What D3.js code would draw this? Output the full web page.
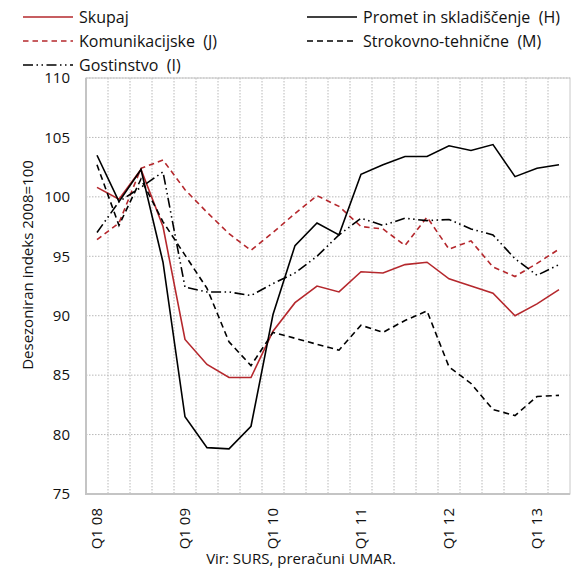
<!DOCTYPE html>
<html>
<head>
<meta charset="utf-8">
<script src="https://cdn.jsdelivr.net/npm/d3@7"></script>
<style>
  body { margin: 0; background: #fff; }
  svg text { font-family: "Open Sans", sans-serif; fill: #111; }
</style>
</head>
<body>
<div id="chart"></div>
<script>
// quarters Q1 08 .. Q2 13
const quarters = ["Q1 08","Q2 08","Q3 08","Q4 08","Q1 09","Q2 09","Q3 09","Q4 09",
                  "Q1 10","Q2 10","Q3 10","Q4 10","Q1 11","Q2 11","Q3 11","Q4 11",
                  "Q1 12","Q2 12","Q3 12","Q4 12","Q1 13","Q2 13"];

const skupaj        = [100.8, 99.8, 102.3, 97.5, 88.0, 85.9, 84.8, 84.8, 88.7, 91.1, 92.5, 92.0, 93.7, 93.6, 94.3, 94.5, 93.1, 92.5, 91.9, 90.0, 91.0, 92.2];
const komunikacijske = [96.4, 97.8, 102.4, 103.1, 100.6, 98.7, 96.9, 95.5, 97.0, 98.6, 100.1, 99.2, 97.5, 97.3, 95.9, 98.3, 95.6, 96.3, 94.1, 93.3, 94.4, 95.6];
const gostinstvo    = [97.0, 99.6, 100.8, 102.1, 92.4, 92.0, 92.0, 91.7, 92.7, 93.6, 95.0, 96.8, 98.2, 97.6, 98.2, 98.0, 98.1, 97.3, 96.8, 94.8, 93.4, 94.3];
const promet        = [103.5, 99.6, 102.3, 94.5, 81.5, 78.9, 78.8, 80.7, 90.1, 95.9, 97.8, 96.8, 101.9, 102.7, 103.4, 103.4, 104.3, 103.9, 104.4, 101.7, 102.4, 102.7];
const strokovno     = [102.7, 97.6, 101.5, 97.9, 95.1, 92.3, 87.8, 85.8, 88.6, 88.1, 87.6, 87.1, 89.2, 88.6, 89.6, 90.4, 85.7, 84.3, 82.1, 81.6, 83.2, 83.3];

const yTicks = [75, 80, 85, 90, 95, 100, 105, 110];
const xLabels = ["Q1 08","Q1 09","Q1 10","Q1 11","Q1 12","Q1 13"];

const red = "#b5282d";
const series = [
    { name: "Skupaj", values: skupaj, color: red, dash: null },
    { name: "Komunikacijske  (J)", values: komunikacijske, color: red, dash: "5.5,4" },
    { name: "Gostinstvo  (I)", values: gostinstvo, color: "#000", dash: "10,3.5,1.5,3.5,1.5,3.5" },
    { name: "Promet in skladiščenje  (H)", values: promet, color: "#000", dash: null },
    { name: "Strokovno-tehnične  (M)", values: strokovno, color: "#000", dash: "6,4" }
];

const width = 571, height = 568;
const plot = { left: 86, right: 570, top: 78, bottom: 494 };

const svg = d3.select("#chart").append("svg")
    .attr("width", width).attr("height", height);

const x = d3.scaleBand().domain(quarters).range([plot.left, plot.right]);
const y = d3.scaleLinear().domain([75, 110]).range([plot.bottom, plot.top]);
const cx = q => x(q) + x.bandwidth() / 2;

// gridlines
svg.append("g").selectAll("line.h")
    .data(yTicks.slice(1))
    .enter().append("line")
    .attr("x1", plot.left).attr("x2", plot.right)
    .attr("y1", d => y(d)).attr("y2", d => y(d))
    .attr("stroke", "#b8b8b8").attr("stroke-width", 1)
    .attr("stroke-dasharray", "1.5,1.5");

svg.append("g").selectAll("line.v")
    .data(quarters.slice(1))
    .enter().append("line")
    .attr("x1", d => x(d)).attr("x2", d => x(d))
    .attr("y1", plot.top).attr("y2", plot.bottom)
    .attr("stroke", "#b8b8b8").attr("stroke-width", 1)
    .attr("stroke-dasharray", "1.5,1.5");

// plot frame
svg.append("rect")
    .attr("x", plot.left).attr("y", plot.top)
    .attr("width", plot.right - plot.left).attr("height", plot.bottom - plot.top)
    .attr("fill", "none").attr("stroke", "#c8c8c8").attr("stroke-width", 1);
svg.append("path")
    .attr("d", `M${plot.left},${plot.top}V${plot.bottom}H${plot.right}`)
    .attr("fill", "none").attr("stroke", "#c4c4c4").attr("stroke-width", 2);

// y axis labels
const yAxis = svg.append("g")
    .attr("transform", `translate(${plot.left},0)`)
    .call(d3.axisLeft(y).tickValues(yTicks).tickSize(0).tickPadding(16));
yAxis.select(".domain").remove();
yAxis.selectAll("text").style("font-size", "15px").style("font-family", "Open Sans, sans-serif");

// x axis labels
const xAxis = svg.append("g")
    .attr("transform", `translate(0,${plot.bottom})`)
    .call(d3.axisBottom(x).tickValues(xLabels).tickSize(0).tickPadding(0));
xAxis.select(".domain").remove();
xAxis.selectAll("text")
    .style("font-size", "15px").style("font-family", "Open Sans, sans-serif")
    .attr("text-anchor", "end")
    .attr("dy", "0.35em")
    .attr("transform", "translate(0,14) rotate(-90)")
    .attr("x", 0).attr("y", 0);

// lines
const line = d3.line()
    .x((d, i) => cx(quarters[i]))
    .y(d => y(d));

series.forEach(s => {
    svg.append("path")
        .datum(s.values)
        .attr("fill", "none")
        .attr("stroke", s.color)
        .attr("stroke-width", 1.6)
        .attr("stroke-dasharray", s.dash)
        .attr("d", line);
});

// y title
svg.append("text")
    .attr("transform", "translate(33,265) rotate(-90)")
    .attr("text-anchor", "middle")
    .style("font-size", "15px")
    .text("Desezoniran indeks 2008=100");

// source
svg.append("text")
    .attr("x", 301).attr("y", 564)
    .attr("text-anchor", "middle")
    .style("font-size", "15px")
    .text("Vir: SURS, preračuni UMAR.");

// legend
const legendPos = [
    { lx: 23, ty: 17 }, { lx: 23, ty: 41 }, { lx: 23, ty: 65 },
    { lx: 307, ty: 17 }, { lx: 307, ty: 41 }
];
series.forEach((s, i) => {
    const p = legendPos[i];
    const g = svg.append("g").attr("transform", `translate(${p.lx},${p.ty})`);
    g.append("line")
        .attr("x1", 0).attr("x2", 50).attr("y1", 0).attr("y2", 0)
        .attr("stroke", s.color).attr("stroke-width", 1.6)
        .attr("stroke-dasharray", s.dash);
    g.append("text")
        .attr("x", 56).attr("y", 0).attr("dy", "0.35em")
        .attr("xml:space", "preserve")
        .style("white-space", "pre")
        .style("font-size", "16px")
        .text(s.name);
});
</script>
</body>
</html>
